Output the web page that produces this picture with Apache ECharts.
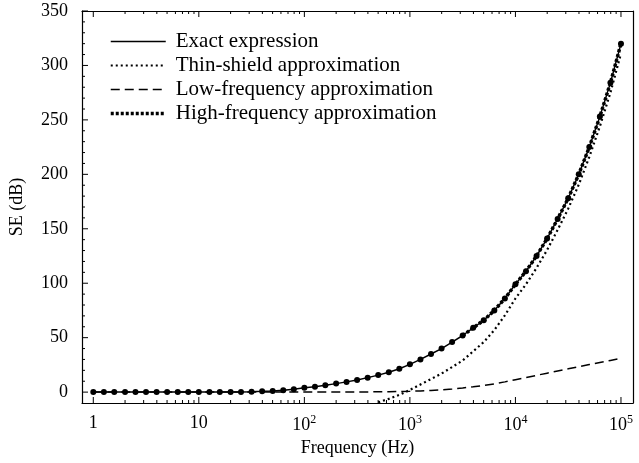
<!DOCTYPE html>
<html>
<head>
<meta charset="utf-8">
<script src="https://cdn.jsdelivr.net/npm/echarts@6/dist/echarts.min.js"></script>
<style>
  html, body { margin: 0; padding: 0; background: #fff; }
  #chart { width: 639px; height: 463px; }
</style>
</head>
<body>
<div id="chart"></div>
<script>
// frequencies (Hz), 10 points per decade
var freqs = [1, 1.26, 1.58, 2, 2.51, 3.16, 3.98, 5.01, 6.31, 7.94,
  10, 12.6, 15.8, 20, 25.1, 31.6, 39.8, 50.1, 63.1, 79.4,
  100, 126, 158, 200, 251, 316, 398, 501, 631, 794,
  1000, 1259, 1585, 1995, 2512, 3162, 3981, 5012, 6310, 7943,
  10000, 12589, 15849, 19953, 25119, 31623, 39811, 50119, 63096, 79433,
  100000];

var exactSE = [0, 0, 0, 0, 0, 0, 0, 0, 0, 0,
  0, 0, 0, 0.1, 0.2, 0.4, 0.7, 1.1, 1.8, 2.7,
  3.9, 5, 6.3, 7.8, 9.4, 11.2, 13.3, 15.6, 18.3, 21.5,
  25.5, 30, 35, 40, 46, 52, 59, 66, 75, 86,
  99, 111, 125, 141, 159, 178, 200, 225, 253, 284,
  320];

var thinSE = [null, null, null, null, null, null, null, null, null, null,
  null, null, null, null, null, null, null, null, null, null,
  null, null, null, null, null, null, null, -9.4, -6.2, -2.5,
  2, 7, 12, 17, 23, 29, 37.5, 46, 57, 70.5,
  86, 99, 114, 130.5, 149, 168.5, 190.5, 216, 244, 275,
  311];

var lowSE = [0, 0, 0, 0, 0, 0, 0, 0, 0, 0,
  0, 0, 0, 0, 0, 0, 0, 0, 0, 0,
  0, 0, 0, 0.1, 0.1, 0.2, 0.2, 0.3, 0.4, 0.6,
  0.8, 1.1, 1.5, 2.1, 2.9, 3.8, 4.9, 6.1, 7.6, 9.4,
  11.4, 13.4, 15.4, 17.4, 19.4, 21.4, 23.4, 25.3, 27.2, 29.1,
  31];

var highSE = [null, null, null, null, null, null, null, null, null, null,
  null, null, null, null, null, null, null, null, null, null,
  null, null, null, null, null, null, null, null, null, null,
  null, null, null, null, null, 52, 59, 66, 75, 86,
  99, 111, 125, 141, 159, 178, 200, 225, 253, 284,
  320];

var xMajor = [0, 1, 2, 3, 4, 5];          // log10 of 1 .. 1e5
var yMajor = [0, 50, 100, 150, 200, 250, 300, 350];
var yMinor = [10, 20, 30, 40, 60, 70, 80, 90, 110, 120, 130, 140, 160, 170, 180, 190,
  210, 220, 230, 240, 260, 270, 280, 290, 310, 320, 330, 340];
var xMinorMult = [2, 3, 4, 5, 6, 7, 8, 9];

var FONT = '"Liberation Serif", "Times New Roman", serif';
var X_MIN = -0.107, X_MAX = 5.114;
var Y_MIN = -10, Y_MAX = 350;
var MAJOR_LEN = 6, MINOR_LEN = 3;

var xMinor = [];
for (var d = 0; d < 5; d++) {
  for (var m = 0; m < xMinorMult.length; m++) {
    xMinor.push(d + Math.log10(xMinorMult[m]));
  }
}

function pairs(vals) {
  var out = [];
  for (var i = 0; i < freqs.length; i++) {
    if (vals[i] !== null) out.push([Math.log10(freqs[i]), vals[i]]);
  }
  return out;
}

// tick marks: [value, side (0 bottom, 1 top, 2 left), length]
var tickItems = [];
xMajor.forEach(function (v) { tickItems.push([v, 0, MAJOR_LEN], [v, 1, MAJOR_LEN]); });
xMinor.forEach(function (v) { tickItems.push([v, 0, MINOR_LEN], [v, 1, MINOR_LEN]); });
yMajor.forEach(function (v) { tickItems.push([v, 2, MAJOR_LEN]); });
yMinor.forEach(function (v) { tickItems.push([v, 2, MINOR_LEN]); });

var LINE = { show: true, onZero: false, lineStyle: { color: '#000', width: 1.2 } };

var chart = echarts.init(document.getElementById('chart'));
chart.setOption({
  animation: false,
  backgroundColor: '#fff',
  grid: { left: 82, right: 6, top: 11, bottom: 60, outerBoundsMode: 'none' },
  legend: {
    orient: 'vertical', left: 104, top: 26, itemWidth: 55, itemHeight: 14, itemGap: 3,
    textStyle: { fontFamily: FONT, fontSize: 21, color: '#000', padding: [0, 0, 0, 5] },
    itemStyle: { opacity: 0 },
    lineStyle: { width: 'inherit' },
    data: ['Exact expression', 'Thin-shield approximation',
      'Low-frequency approximation', 'High-frequency approximation']
  },
  xAxis: [
    {
      type: 'value', position: 'bottom', min: X_MIN, max: X_MAX,
      name: 'Frequency (Hz)', nameLocation: 'middle', nameGap: 35,
      nameTextStyle: { fontFamily: FONT, fontSize: 18, color: '#000' },
      axisLine: LINE, splitLine: { show: false }, axisTick: { show: false },
      axisLabel: {
        customValues: xMajor, margin: 11, color: '#000', fontFamily: FONT, fontSize: 18,
        formatter: function (v) {
          var p = Math.round(v);
          if (p === 0) return '1';
          if (p === 1) return '10';
          return '{b|10}{s|' + p + '}';
        },
        rich: {
          b: { fontFamily: FONT, fontSize: 18, color: '#000', lineHeight: 22 },
          s: { fontFamily: FONT, fontSize: 12, color: '#000', verticalAlign: 'top', lineHeight: 12 }
        }
      }
    },
    {
      type: 'value', position: 'top', min: X_MIN, max: X_MAX,
      axisLine: LINE, splitLine: { show: false }, axisTick: { show: false },
      axisLabel: { show: false }
    }
  ],
  yAxis: [
    {
      type: 'value', min: Y_MIN, max: Y_MAX, position: 'left',
      name: 'SE (dB)', nameLocation: 'middle', nameGap: 56,
      nameTextStyle: { fontFamily: FONT, fontSize: 18, color: '#000' },
      axisLine: LINE, splitLine: { show: false }, axisTick: { show: false },
      axisLabel: { customValues: yMajor, margin: 14, color: '#000', fontFamily: FONT, fontSize: 18 }
    },
    {
      type: 'value', min: Y_MIN, max: Y_MAX, position: 'right',
      axisLine: LINE, splitLine: { show: false },
      axisTick: { show: false }, axisLabel: { show: false }
    }
  ],
  series: [
    {
      name: 'Exact expression', type: 'line', data: pairs(exactSE),
      symbol: 'circle', symbolSize: 6, showSymbol: true,
      itemStyle: { color: '#000' },
      lineStyle: { color: '#000', width: 1.5, type: 'solid' },
      z: 5
    },
    {
      name: 'Thin-shield approximation', type: 'line', data: pairs(thinSE),
      symbol: 'none', itemStyle: { color: '#000' },
      lineStyle: { color: '#000', width: 2.2, type: [2, 3] }
    },
    {
      name: 'Low-frequency approximation', type: 'line', data: pairs(lowSE),
      symbol: 'none', itemStyle: { color: '#000' },
      lineStyle: { color: '#000', width: 1.5, type: [9, 5] }
    },
    {
      name: 'High-frequency approximation', type: 'line', data: pairs(highSE),
      symbol: 'none', itemStyle: { color: '#000' },
      lineStyle: { color: '#000', width: 3.5, type: [3, 2] }
    },
    {
      // axis ticks (major / log-minor), placed through the axis scales
      type: 'custom', silent: true, clip: false, z: 10,
      data: tickItems,
      renderItem: function (params, api) {
        var v = api.value(0), side = api.value(1), len = api.value(2);
        var a, b;
        if (side === 0) {
          a = api.coord([v, Y_MIN]); b = [a[0], a[1] - len];
        } else if (side === 1) {
          a = api.coord([v, Y_MAX]); b = [a[0], a[1] + len];
        } else {
          a = api.coord([X_MIN, v]); b = [a[0] + len, a[1]];
        }
        return {
          type: 'line',
          shape: { x1: a[0], y1: a[1], x2: b[0], y2: b[1] },
          style: { stroke: '#000', lineWidth: 1 }
        };
      }
    }
  ]
});
</script>
</body>
</html>
